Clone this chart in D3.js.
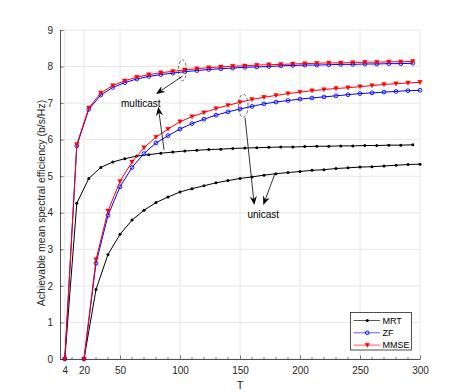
<!DOCTYPE html>
<html>
<head>
<meta charset="utf-8">
<script src="https://cdn.jsdelivr.net/npm/d3@7"></script>
<style>
  body{margin:0;background:#fff;}
  text{font-family:"Liberation Sans",Arial,sans-serif;}
</style>
</head>
<body>
<div id="container"></div>
<script>
// multicast runs start at T=4, unicast at T=20
const tMulti=[4,14,24,34,44,54,64,74,84,94,104,114,124,134,144,154,164,174,184,194,204,214,224,234,244,254,264,274,284,294];
const tUni=[20,30,40,50,60,70,80,90,100,110,120,130,140,150,160,170,180,190,200,210,220,230,240,250,260,270,280,290,300];

const mrtMulti=[0,4.26,4.94,5.24,5.39,5.48,5.55,5.59,5.63,5.66,5.69,5.71,5.73,5.74,5.76,5.77,5.78,5.79,5.80,5.80,5.81,5.82,5.82,5.83,5.83,5.84,5.84,5.85,5.85,5.86];
const zfMulti=[0,5.83,6.83,7.22,7.43,7.56,7.66,7.73,7.78,7.82,7.86,7.89,7.92,7.94,7.96,7.98,7.99,8.00,8.02,8.03,8.04,8.04,8.05,8.06,8.06,8.07,8.07,8.08,8.08,8.09];
const mmseMulti=[0,5.87,6.87,7.28,7.48,7.61,7.71,7.78,7.83,7.87,7.91,7.94,7.97,7.99,8.01,8.02,8.04,8.05,8.06,8.07,8.08,8.09,8.10,8.10,8.11,8.12,8.12,8.13,8.13,8.14];

const mrtUni=[0,1.90,2.86,3.41,3.80,4.07,4.28,4.43,4.57,4.66,4.74,4.82,4.88,4.94,4.98,5.03,5.07,5.10,5.13,5.16,5.18,5.21,5.23,5.25,5.26,5.28,5.30,5.32,5.33];
const zfUni=[0,2.62,3.93,4.71,5.24,5.62,5.91,6.11,6.29,6.44,6.56,6.67,6.76,6.84,6.91,6.98,7.03,7.07,7.11,7.14,7.17,7.20,7.23,7.26,7.28,7.30,7.32,7.34,7.35];
const mmseUni=[0,2.72,4.05,4.86,5.39,5.78,6.07,6.29,6.49,6.63,6.74,6.85,6.94,7.02,7.10,7.16,7.21,7.26,7.30,7.34,7.37,7.40,7.42,7.45,7.48,7.51,7.53,7.55,7.57];

const xTicks=[4,20,50,100,150,200,250,300];
const yTicks=[0,1,2,3,4,5,6,7,8,9];
const legendNames=['MRT','ZF','MMSE'];

const width=463, height=392;
const pLeft=60, pRight=420, pTop=30, pBottom=359;
const axisColor='#262626';

const xScale=d3.scaleLinear().domain([0,300]).range([pLeft,pRight]);
const yScale=d3.scaleLinear().domain([0,9]).range([pBottom,pTop]);

const svg=d3.select('#container').append('svg')
    .attr('width',width).attr('height',height);

// grid
svg.append('g').selectAll('line').data(xTicks).enter().append('line')
   .attr('x1',d=>xScale(d)).attr('x2',d=>xScale(d))
   .attr('y1',pTop).attr('y2',pBottom)
   .attr('stroke','#e6e6e6');
svg.append('g').selectAll('line').data(yTicks).enter().append('line')
   .attr('x1',pLeft).attr('x2',pRight)
   .attr('y1',d=>yScale(d)).attr('y2',d=>yScale(d))
   .attr('stroke','#e6e6e6');

// minor x ticks
const minor=d3.range(10,300,10).filter(d=>!xTicks.includes(d));
svg.append('g').selectAll('line').data(minor).enter().append('line')
   .attr('x1',d=>xScale(d)).attr('x2',d=>xScale(d))
   .attr('y1',pBottom).attr('y2',pBottom-2)
   .attr('stroke',axisColor).attr('stroke-width',0.6);

const xAxis=d3.axisBottom(xScale).tickValues(xTicks).tickSizeInner(-3.6).tickSizeOuter(0).tickPadding(8);
const yAxis=d3.axisLeft(yScale).tickValues(yTicks).tickSizeInner(-3.6).tickSizeOuter(0).tickPadding(7);

const gx=svg.append('g').attr('transform',`translate(0,${pBottom})`).call(xAxis);
const gy=svg.append('g').attr('transform',`translate(${pLeft},0)`).call(yAxis);
[gx,gy].forEach(g=>{
  g.select('.domain').attr('stroke',axisColor).attr('stroke-width',0.8);
  g.selectAll('.tick line').attr('stroke',axisColor).attr('stroke-width',0.6);
  g.selectAll('.tick text').attr('fill',axisColor).style('font-size','10px').style('font-family','"Liberation Sans",Arial,sans-serif');
});

svg.append('text').attr('x',xScale(150)).attr('y',389)
   .attr('text-anchor','middle').attr('fill',axisColor).style('font-size','11px').text('T');
svg.append('text').attr('transform',`translate(45,203) rotate(-90)`)
   .attr('text-anchor','middle').attr('fill',axisColor).style('font-size','10.5px')
   .text('Achievable mean spectral efficiency (b/s/Hz)');

// curves
const series=[
  {t:tMulti,v:mrtMulti,c:'#000000',m:'dot'},
  {t:tUni,v:mrtUni,c:'#000000',m:'dot'},
  {t:tMulti,v:zfMulti,c:'#0000ff',m:'circle'},
  {t:tUni,v:zfUni,c:'#0000ff',m:'circle'},
  {t:tMulti,v:mmseMulti,c:'#ff0000',m:'tri'},
  {t:tUni,v:mmseUni,c:'#ff0000',m:'tri'}
];
const line=d3.line().x(d=>xScale(d[0])).y(d=>yScale(d[1]));

function marker(g,type,c,x,y){
  if(type==='dot') g.append('circle').attr('cx',x).attr('cy',y).attr('r',1.5).attr('fill',c);
  else if(type==='circle') g.append('circle').attr('cx',x).attr('cy',y).attr('r',1.9).attr('fill','none').attr('stroke',c).attr('stroke-width',0.9);
  else g.append('path').attr('d',`M${x-2.3},${y-1.9}L${x+2.3},${y-1.9}L${x},${y+2.2}Z`).attr('fill',c).attr('stroke',c).attr('stroke-width',0.4);
}

series.forEach(s=>{
  const pts=s.t.map((t,i)=>[t,s.v[i]]);
  svg.append('path').datum(pts).attr('d',line)
     .attr('fill','none').attr('stroke',s.c).attr('stroke-width',1);
  const g=svg.append('g');
  pts.forEach(p=>marker(g,s.m,s.c,xScale(p[0]),yScale(p[1])));
});

// annotations
function arrow(x1,y1,x2,y2){
  const ax1=xScale(x1),ay1=yScale(y1),ax2=xScale(x2),ay2=yScale(y2);
  const ang=Math.atan2(ay2-ay1,ax2-ax1);
  const L=9,W=3.6,N=6;
  const ux=Math.cos(ang),uy=Math.sin(ang);
  const bx=ax2-ux*L,by=ay2-uy*L;
  const nx=ax2-ux*N,ny=ay2-uy*N;
  svg.append('line').attr('x1',ax1).attr('y1',ay1).attr('x2',nx).attr('y2',ny)
     .attr('stroke','#000').attr('stroke-width',0.8);
  svg.append('path')
     .attr('d',`M${ax2},${ay2}L${bx-uy*W},${by+ux*W}L${nx},${ny}L${bx+uy*W},${by-ux*W}Z`)
     .attr('fill','#000');
}
function ellipse(t,v,rx,ry){
  svg.append('ellipse').attr('cx',xScale(t)).attr('cy',yScale(v)).attr('rx',rx).attr('ry',ry)
     .attr('fill','none').attr('stroke','#333').attr('stroke-width',0.7).attr('stroke-dasharray','3,2');
}
ellipse(102,7.9,4,10.5);
ellipse(152.7,6.93,4.8,11.5);
arrow(102.2,7.74,80,7.25);
arrow(86.7,5.72,81.9,6.90);
arrow(154.2,6.60,161.9,4.21);
arrow(179.2,5.08,169.4,4.21);
svg.append('text').attr('x',xScale(67.3)).attr('y',yScale(6.99)+3.5)
   .attr('text-anchor','middle').attr('fill','#000').style('font-size','10px').text('multicast');
svg.append('text').attr('x',xScale(169.4)).attr('y',yScale(3.94)+3.5)
   .attr('text-anchor','middle').attr('fill','#000').style('font-size','10px').text('unicast');

// legend
const lg=svg.append('g');
lg.append('rect').attr('x',350.5).attr('y',312.5).attr('width',61).attr('height',37.5)
  .attr('fill','#fff').attr('stroke',axisColor).attr('stroke-width',0.8);
const legendColors=['#000000','#0000ff','#ff0000'];
const legendMarks=['dot','circle','tri'];
legendNames.forEach((n,i)=>{
  const y=320.5+i*12.3;
  lg.append('line').attr('x1',353.5).attr('x2',380).attr('y1',y).attr('y2',y)
    .attr('stroke',legendColors[i]).attr('stroke-width',1).attr('stroke-opacity',0.65);
  marker(lg,legendMarks[i],legendColors[i],367.3,y);
  lg.append('text').attr('x',382.5).attr('y',y+3.2).attr('fill','#000').style('font-size','9px').text(n);
});
</script>
</body>
</html>
